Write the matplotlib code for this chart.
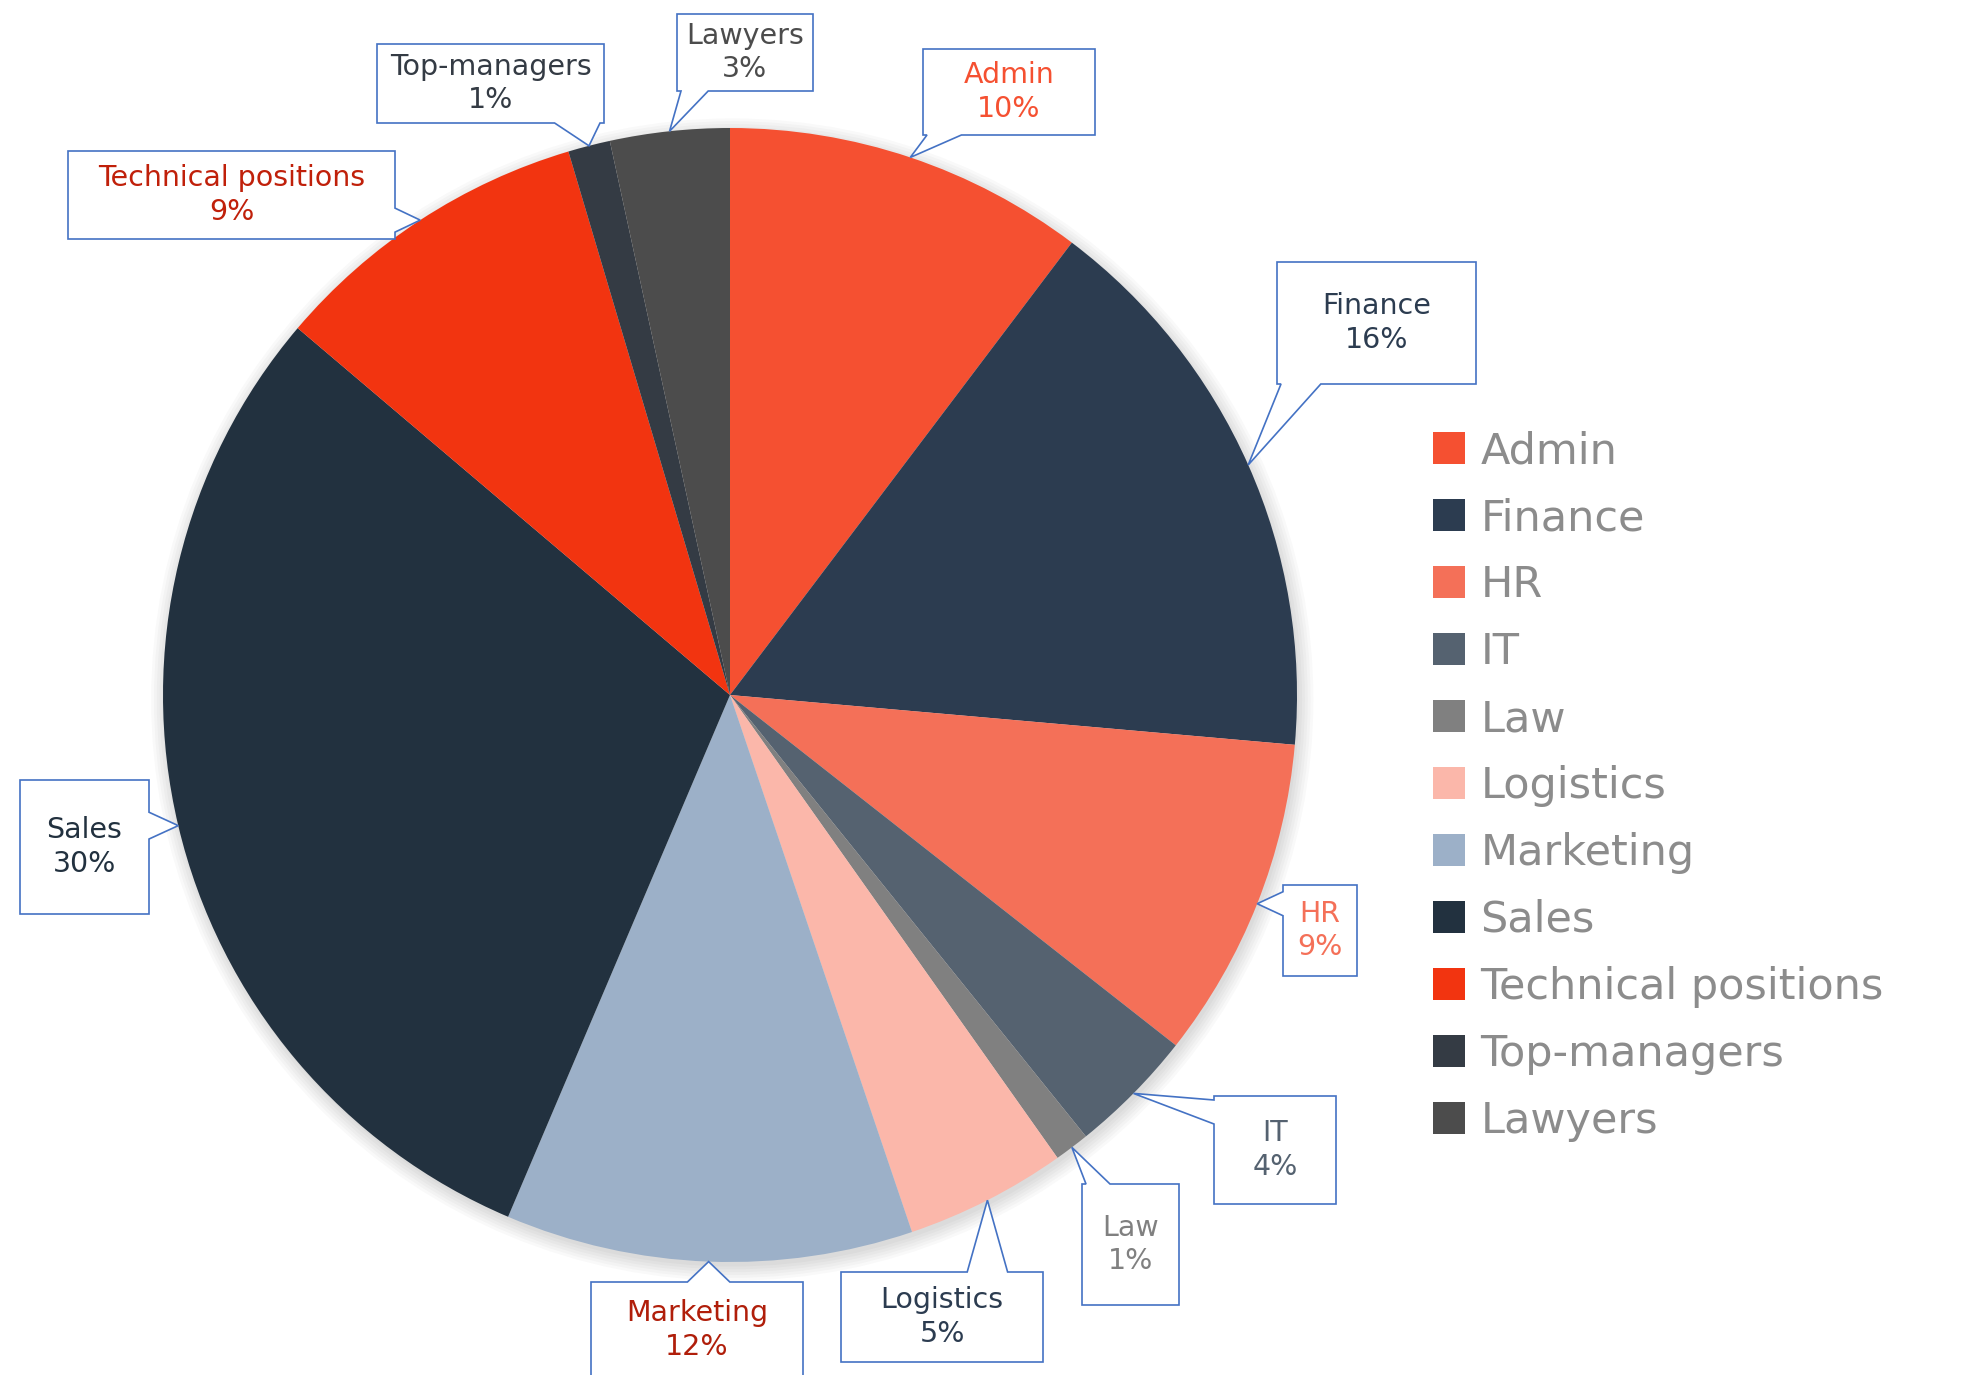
import numpy as np
import matplotlib.pyplot as plt
from matplotlib.patches import Polygon, Circle

# --------------------------------
# Data (share of vacancies by department, %)
# --------------------------------
categories = ["Admin", "Finance", "HR", "IT", "Law", "Logistics", "Marketing",
              "Sales", "Technical positions", "Top-managers", "Lawyers"]
shares = [10.3, 16.1, 9.2, 3.6, 1.0, 4.6, 11.6, 29.8, 9.2, 1.2, 3.4]

slice_colors = ["#F55031", "#2C3C50", "#F47058", "#556270", "#808080", "#FBB7AA",
                "#9CB0C8", "#22313F", "#F23410", "#343B44", "#4C4C4C"]
label_colors = ["#F55031", "#2C3C50", "#F47058", "#556270", "#808080", "#2C3C50",
                "#B01E0A", "#22313F", "#C0200A", "#343B44", "#4C4C4C"]

# callout boxes, pixel layout (left, top, right, bottom)
box_px = {
    "Admin": (923, 49, 1095, 135),
    "Finance": (1277, 262, 1476, 384),
    "HR": (1283, 885, 1357, 976),
    "IT": (1214, 1096, 1336, 1204),
    "Law": (1082, 1184, 1179, 1305),
    "Logistics": (841, 1272, 1043, 1362),
    "Marketing": (591, 1282, 803, 1378),
    "Sales": (20, 780, 149, 914),
    "Technical positions": (68, 151, 395, 239),
    "Top-managers": (377, 44, 604, 123),
    "Lawyers": (677, 14, 813, 91),
}

W, H = 1985, 1375
CX, CY, R = 730, 695, 567


def to_data(x, y):
    return (x - CX) / R, (CY - y) / R


def to_px(u, v):
    return CX + R * u, CY - R * v


def callout_poly(box, tip):
    l, t, r, b = box
    tx, ty = tip
    d = {"left": l - tx, "right": tx - r, "top": t - ty, "bottom": ty - b}
    side = max(d, key=d.get)
    if side in ("top", "bottom"):
        lo, hi, proj = l, r, tx
    else:
        lo, hi, proj = t, b, ty
    w = min(max(0.2 * (hi - lo), 24), 50)
    m = 4
    c = min(max(proj, lo + m + w / 2), hi - m - w / 2)
    pts = [(l, t)]
    if side == "top":
        pts += [(c - w / 2, t), (tx, ty), (c + w / 2, t)]
    pts.append((r, t))
    if side == "right":
        pts += [(r, c - w / 2), (tx, ty), (r, c + w / 2)]
    pts.append((r, b))
    if side == "bottom":
        pts += [(c + w / 2, b), (tx, ty), (c - w / 2, b)]
    pts.append((l, b))
    if side == "left":
        pts += [(l, c + w / 2), (tx, ty), (l, c - w / 2)]
    return [to_data(x, y) for x, y in pts]


# --------------------------------
# Figure
# --------------------------------
plt.rcParams["font.family"] = "DejaVu Sans"
fig = plt.figure(figsize=(W / 100, H / 100), dpi=100)
ax = fig.add_axes([0, 0, 1, 1])

# soft shadow under the pie
for k in range(6):
    ax.add_patch(Circle((0.004, -0.008), 1.0 + 0.005 * k, color="black",
                        alpha=0.025, lw=0, zorder=0))

wedges, _ = ax.pie(shares, colors=slice_colors, startangle=90, counterclock=False,
                   radius=1, wedgeprops=dict(linewidth=0, zorder=1))

ax.set_aspect("auto")
ax.set_xlim(-CX / R, (W - CX) / R)
ax.set_ylim(-(H - CY) / R, CY / R)
ax.axis("off")

# --------------------------------
# Callout labels
# --------------------------------
total = sum(shares)
for w, name, val, tc in zip(wedges, categories, shares, label_colors):
    ang = np.deg2rad((w.theta1 + w.theta2) / 2)
    tip = to_px(np.cos(ang), np.sin(ang))
    box = box_px[name]
    ax.add_patch(Polygon(callout_poly(box, tip), closed=True, fc="white",
                         ec="#4472C4", lw=1.2, zorder=3))
    mx, my = to_data((box[0] + box[2]) / 2, (box[1] + box[3]) / 2)
    ax.text(mx, my, f"{name}\n{round(100 * val / total)}%", ha="center", va="center",
            fontsize=20.5, color=tc, linespacing=1.25, zorder=4)

# --------------------------------
# Legend
# --------------------------------
fig.legend(wedges, categories, loc="center left",
           bbox_to_anchor=(1433 / W, 1 - 786 / H), frameon=False, fontsize=31,
           labelcolor="#8C8C8C", handlelength=0.75, handleheight=0.75,
           handletextpad=0.35, labelspacing=0.58, borderpad=0, borderaxespad=0)

fig.savefig("out.png", dpi=100)
